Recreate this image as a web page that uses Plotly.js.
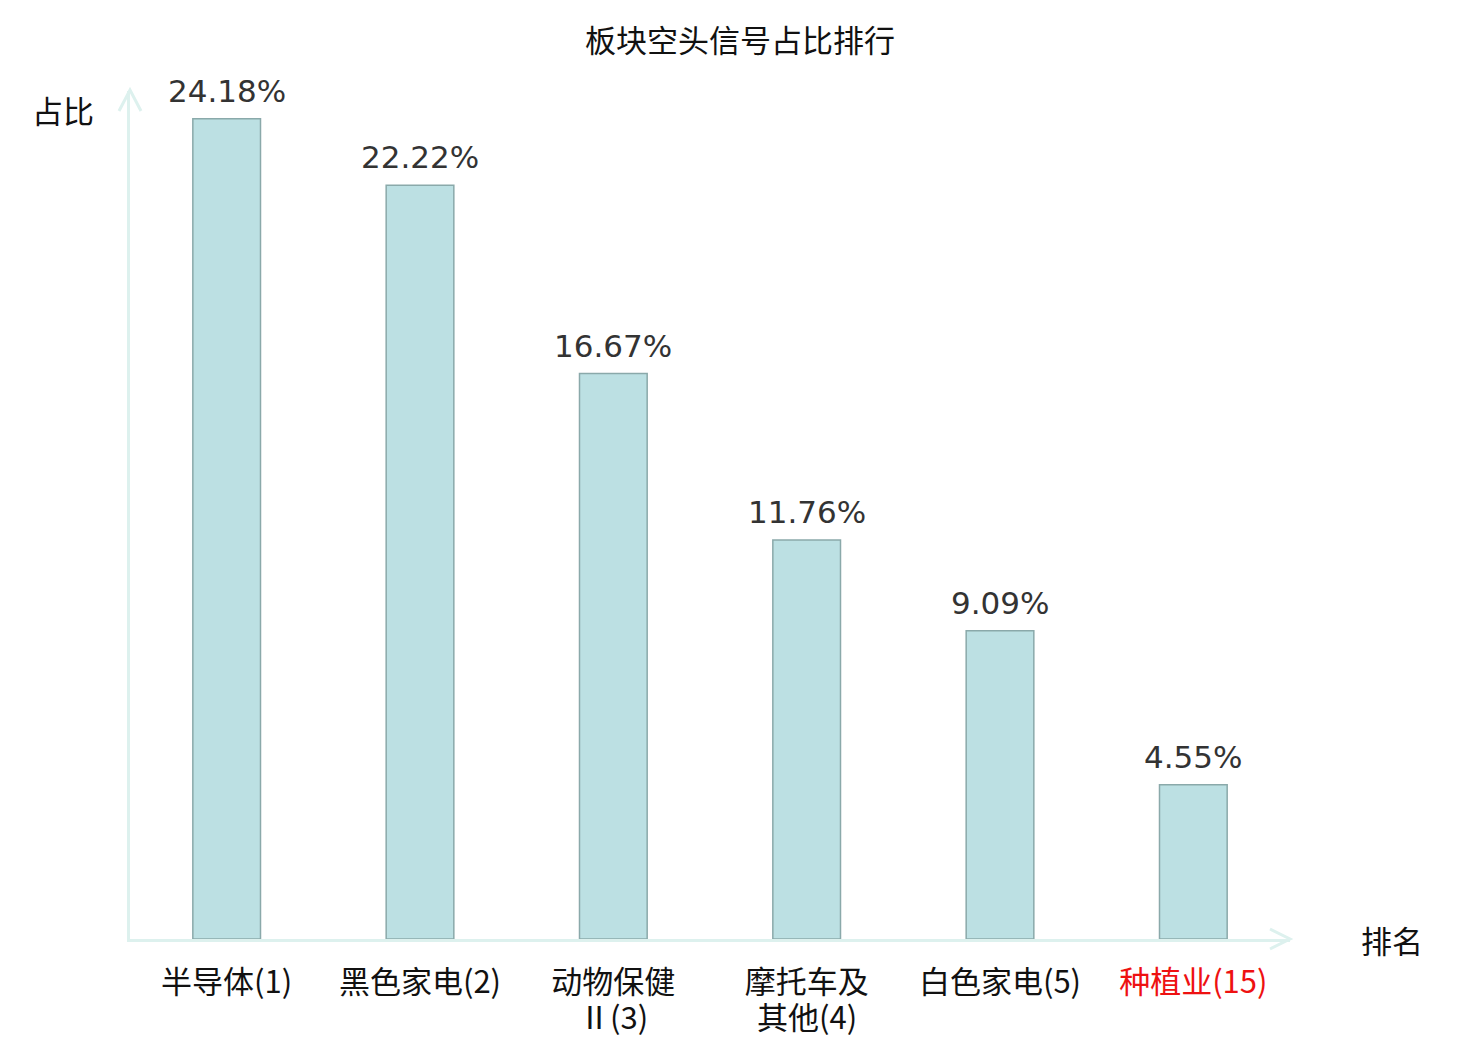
<!DOCTYPE html>
<html>
<head>
<meta charset="utf-8">
<script src="https://cdn.plot.ly/plotly-3.0.1.min.js"></script>
<style>
  html, body { margin:0; padding:0; background:#fff; }
  #sector_short { width:1480px; height:1040px; }
</style>
</head>
<body>
<div id="sector_short"></div>
<script>
//------------------------------------板块空头信号占比排行 bar chart---------------------------------------------//
var sectors = ['半导体(1)', '黑色家电(2)', '动物保健', '摩托车及', '白色家电(5)', '种植业(15)'];
var sectors_line2 = ['', '', 'Ⅱ(3)', '其他(4)', '', ''];
var ratios = [24.18, 22.22, 16.67, 11.76, 9.09, 4.55];
var highlight = [false, false, false, false, false, true];

var cats = ['c1', 'c2', 'c3', 'c4', 'c5', 'c6'];

var tick_font = {family:'DejaVu Sans ExtraLight, Noto Sans CJK SC', size:31, color:'#111'};

var tick_text = sectors.map(function(s, i){
  return highlight[i] ? '<span style="color:#ee1111">' + s + '</span>' : s;
});

var trace1 = {
  x:cats,
  y:ratios,
  type:'bar',
  width:0.35,
  marker:{color:'#bce0e3', line:{color:'#8aa9aa', width:1.5}},
  hoverinfo:'skip'
};

// value labels above bars
var labels = ratios.map(function(v, i){
  return {
    x:cats[i], y:v, xref:'x', yref:'y',
    text:v.toFixed(2) + '%',
    showarrow:false, yanchor:'bottom', yshift:8,
    font:{family:'DejaVu Sans', size:31, color:'#333333'}
  };
});

// second line of the long tick labels
sectors_line2.forEach(function(s, i){
  if (!s) return;
  labels.push({
    x:cats[i], y:0, xref:'x', yref:'paper', text:s,
    showarrow:false, xanchor:'center', yanchor:'middle', yshift:-76,
    font:tick_font
  });
});

labels.push({
  x:-0.058, y:0.978, xref:'paper', yref:'paper', text:'占比', showarrow:false,
  xanchor:'center', yanchor:'middle',
  font:{family:'Noto Sans CJK SC', size:31, color:'#111'}
});
labels.push({
  x:1.088, y:0.0, xref:'paper', yref:'paper', text:'排名', showarrow:false,
  xanchor:'center', yanchor:'middle',
  font:{family:'Noto Sans CJK SC', size:31, color:'#111'}
});

var axis_col = '#ddf1ee';

var layout1 = {
  width:1480, height:1040,
  margin:{l:130, r:190, t:91, b:101},
  paper_bgcolor:'#fff', plot_bgcolor:'#fff',
  showlegend:false,
  title:{text:'板块空头信号占比排行', x:0.5, xref:'container', xanchor:'center', y:0.96, yanchor:'middle',
         font:{family:'Noto Sans CJK SC', size:31, color:'#111'}},
  xaxis:{type:'category', range:[-0.5, 5.5], fixedrange:true,
         tickvals:cats, ticktext:tick_text, ticks:'',
         ticklabelstandoff:14,
         tickfont:tick_font,
         showline:true, linecolor:axis_col, linewidth:3,
         showgrid:false, zeroline:false},
  yaxis:{range:[0, 25], showticklabels:false, ticks:'',
         showline:true, linecolor:axis_col, linewidth:3,
         showgrid:false, zeroline:false},
  annotations:labels,
  shapes:[
    {type:'path', xref:'paper', yref:'paper', xsizemode:'pixel', ysizemode:'pixel',
     xanchor:1, yanchor:0, path:'M-20,10 L0,0 L-20,-10',
     line:{color:axis_col, width:3}},
    {type:'path', xref:'paper', yref:'paper', xsizemode:'pixel', ysizemode:'pixel',
     xanchor:0, yanchor:1, path:'M-11,-20 L0,1 L11,-20',
     line:{color:axis_col, width:3}}
  ]
};

var data1 = [trace1];
var config = {responsive:false, displayModeBar:false};
Plotly.newPlot('sector_short', data1, layout1, config);
</script>
</body>
</html>
